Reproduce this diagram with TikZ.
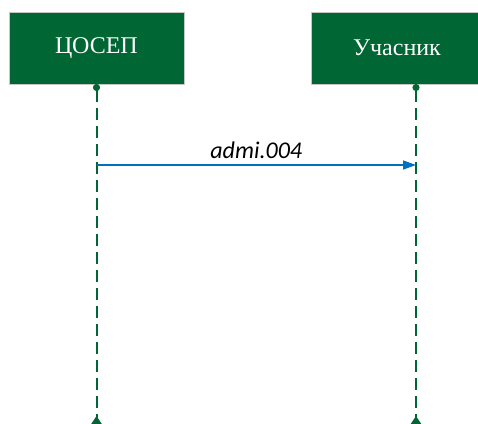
\documentclass[tikz,border=0pt]{standalone}
\usepackage{fontspec}
\setmainfont{Liberation Serif}
\newfontfamily\msgfont{Carlito}
\usetikzlibrary{arrows.meta,positioning}
\definecolor{boxgreen}{RGB}{0,102,51}
\definecolor{msgblue}{RGB}{0,112,192}
\tikzset{
  actor/.style={draw=gray!45,line width=0.8pt,fill=boxgreen,text=white,
    minimum height=72pt,inner sep=0pt,font=\fontsize{24}{26}\selectfont},
  lifeline/.style={boxgreen,line width=2pt,dash pattern=on 12pt off 6pt,
    {Circle[length=7pt,width=7pt]}-{Triangle[reversed,length=8pt,width=10pt]}},
  message/.style={msgblue,line width=1.3pt,-{Triangle[length=13pt,width=9pt]}}
}
\begin{document}
\begin{tikzpicture}[x=1pt,y=1pt]
  \useasboundingbox (0,0) rectangle (478,423);
  \node [actor,minimum width=175pt] (tsosep) at (96.5,375) {ЦОСЕП};
  \node [actor,minimum width=172pt] (uchasnyk) at (397,375) {Учасник};
  \coordinate (top1) at (96.5,339);
  \coordinate (top2) at (416,339);
  \coordinate (bot1) at (96.5,-1);
  \coordinate (bot2) at (416,-1);
  \draw [lifeline] (top1) -- (bot1);
  \draw [lifeline] (top2) -- (bot2);
  % message
  \coordinate (m1) at (96.5,258);
  \coordinate (m2) at (416,258);
  \draw [message] (m1) -- (m2) node [midway,above=2pt,text=black,font=\msgfont\itshape\fontsize{24}{26}\selectfont] (msg) {admi.004};
\end{tikzpicture}
\end{document}
